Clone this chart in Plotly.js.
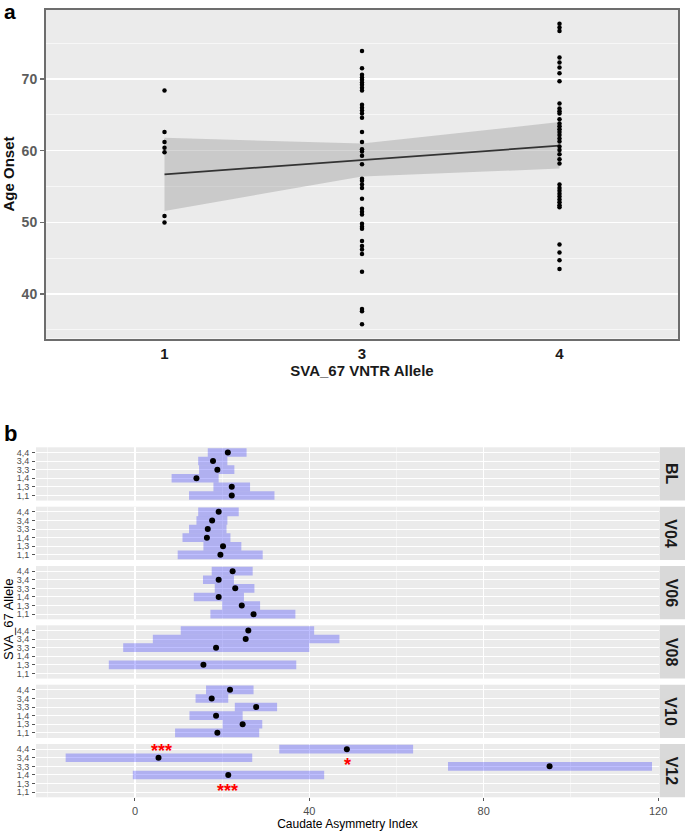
<!DOCTYPE html>
<html>
<head>
<meta charset="utf-8">
<script src="https://cdn.plot.ly/plotly-3.0.1.min.js"></script>
<style>html,body{margin:0;padding:0;background:#fff;}#chart{width:685px;height:832px;}</style>
</head>
<body>
<div id="chart"></div>
<script>
// ---------- Panel a data ----------
var alleleCats = ['1', '3', '4'];
var onsetAllele1 = [68.4, 62.6, 61.2, 60.4, 59.8, 50.9, 50.0];
var onsetAllele3 = [73.9, 71.5, 70.6, 70.2, 69.9, 69.5, 69.2, 68.8, 68.4, 66.4, 66.0, 65.6, 65.2, 64.6,
  62.6, 61.2, 60.2, 59.9, 59.3, 58.1, 56.1, 55.8, 55.3, 54.8, 53.3, 51.9, 51.5, 51.1, 49.8, 49.4, 49.1,
  47.4, 46.7, 46.2, 45.6, 43.1, 37.9, 37.6, 35.8];
var onsetAllele4 = [77.7, 77.2, 76.7, 73.0, 72.3, 71.6, 70.8, 69.7, 66.6, 65.9, 65.5, 65.2, 64.4, 63.8,
  63.4, 63.0, 62.6, 62.2, 61.7, 61.3, 60.6, 60.1, 59.5, 58.8, 58.2, 55.3, 54.8, 54.4, 54.0, 53.6, 53.2,
  52.8, 52.4, 52.1, 46.9, 45.8, 44.7, 43.5];
var fitLine = [56.7, 58.7, 60.7];
var fitLow = [51.6, 56.4, 57.5];
var fitHigh = [61.8, 61.0, 64.0];

// ---------- Panel b data ----------
var visits = ['BL', 'V04', 'V06', 'V08', 'V10', 'V12'];
var genotypes = ['1,1', '1,3', '1,4', '3,3', '3,4', '4,4'];
var meanCAI = [
  [22.2, 22.2, 14.1, 18.9, 17.9, 21.3],
  [19.6, 20.2, 16.5, 16.7, 17.7, 19.2],
  [27.2, 24.5, 19.2, 23.0, 19.2, 22.4],
  [null, 15.7, null, 18.6, 25.4, 26.0],
  [18.9, 24.7, 18.6, 27.8, 17.6, 21.8],
  [null, null, 21.4, 95.1, 5.4, 48.6]
];
var lowCAI = [
  [12.4, 18.0, 8.4, 14.7, 14.5, 16.7],
  [9.8, 15.7, 10.9, 12.4, 14.1, 14.5],
  [17.3, 20.0, 13.5, 18.3, 15.6, 17.6],
  [null, -6.0, null, -2.7, 4.1, 10.5],
  [9.2, 20.1, 12.5, 22.9, 13.9, 16.3],
  [null, null, -0.5, 71.8, -15.9, 33.1]
];
var highCAI = [
  [32.0, 26.4, 19.2, 22.8, 21.2, 25.6],
  [29.3, 24.4, 21.9, 21.0, 21.2, 23.8],
  [36.8, 28.7, 25.0, 27.4, 22.7, 27.0],
  [null, 37.0, null, 40.0, 46.9, 41.1],
  [28.5, 29.2, 24.7, 32.6, 21.4, 27.2],
  [null, null, 43.4, 118.6, 26.9, 63.8]
];
// significance marks in V12 facet: label, x value, genotype index position
var sigLabels = ['***', '***', '*'];
var sigX = [6.0, 21.3, 48.7];
var sigY = [4.75, 0.1, 3.1];

// ---------- layout helpers ----------
var W = 685, H = 832;
function px(x) { return x / W; }
function dom(top, bottom) { return [1 - bottom / H, 1 - top / H]; }
var FONT = 'Liberation Sans, Arial, sans-serif';
var facetTops = [447.3, 506.7, 566.0, 625.3, 684.7, 744.0];
var facetH = 53.3;

var traces = [];
// Panel a
traces.push({
  type: 'scatter', mode: 'lines', xaxis: 'x', yaxis: 'y',
  x: alleleCats.concat(alleleCats.slice().reverse()),
  y: fitLow.concat(fitHigh.slice().reverse()),
  fill: 'toself', fillcolor: 'rgba(153,153,153,0.4)', line: {width: 0}, hoverinfo: 'skip', showlegend: false
});
traces.push({
  type: 'scatter', mode: 'lines', xaxis: 'x', yaxis: 'y',
  x: alleleCats, y: fitLine, line: {color: '#333333', width: 1.8}, showlegend: false
});
var allOnset = [onsetAllele1, onsetAllele3, onsetAllele4];
allOnset.forEach(function (vals, i) {
  traces.push({
    type: 'scatter', mode: 'markers', xaxis: 'x', yaxis: 'y',
    x: vals.map(function () { return alleleCats[i]; }), y: vals,
    marker: {color: '#000000', size: 4.5}, showlegend: false
  });
});

// Panel b
var layout = {
  width: W, height: H,
  margin: {l: 0, r: 0, t: 0, b: 0},
  paper_bgcolor: '#ffffff', plot_bgcolor: '#EBEBEB',
  showlegend: false,
  font: {family: FONT, color: '#000'},
  xaxis: {
    domain: [px(46), px(678)], anchor: 'y', type: 'category', categoryarray: alleleCats, categoryorder: 'array',
    range: [-0.6, 2.6], showgrid: false, zeroline: false,
    showline: true, mirror: true, linecolor: '#6d6d6d', linewidth: 2,
    ticks: '', ticklabelstandoff: 0,
    tickfont: {family: FONT, size: 15, color: '#1a1a1a', weight: 'bold'},
    title: {text: 'SVA_67 VNTR Allele', font: {family: FONT, size: 15, color: '#1a1a1a', weight: 'bold'}, standoff: 2}
  },
  yaxis: {
    domain: dom(9.5, 338.5), anchor: 'x', range: [33.8, 79.7],
    tick0: 0, dtick: 10, showgrid: true, gridcolor: '#ffffff', gridwidth: 1.2, zeroline: false,
    minor: {tick0: 0, dtick: 5, showgrid: true, gridcolor: 'rgba(255,255,255,0.6)', gridwidth: 1, ticks: ''},
    showline: true, mirror: true, linecolor: '#6d6d6d', linewidth: 2,
    ticks: 'outside', ticklen: 4, tickcolor: '#6d6d6d', tickwidth: 1.2,
    tickfont: {family: FONT, size: 14, color: '#5c5c5c', weight: 'bold'},
    title: {text: 'Age Onset', font: {family: FONT, size: 15, color: '#111', weight: 'bold'}, standoff: 5}
  },
  xaxis2: {
    domain: [px(36), px(659)], anchor: 'y7', range: [-22.7, 120.2],
    tick0: 0, dtick: 40, showgrid: true, gridcolor: '#ffffff', gridwidth: 1.1, zeroline: false,
    minor: {tick0: 0, dtick: 20, showgrid: true, gridcolor: 'rgba(255,255,255,0.65)', gridwidth: 0.7, ticks: ''},
    ticks: 'outside', ticklen: 3, tickcolor: '#555', tickwidth: 1,
    tickfont: {family: FONT, size: 11, color: '#4d4d4d'},
    title: {text: 'Caudate Asymmetry Index', font: {family: FONT, size: 12, color: '#000'}, standoff: 4}
  },
  shapes: [],
  annotations: [
    {text: 'a', xref: 'paper', yref: 'paper', x: px(2), y: 1 + 2 / H, xanchor: 'left', yanchor: 'top',
      showarrow: false, font: {family: FONT, size: 21, color: '#000', weight: 'bold'}},
    {text: 'b', xref: 'paper', yref: 'paper', x: px(2), y: 1 - 419 / H, xanchor: 'left', yanchor: 'top',
      showarrow: false, font: {family: FONT, size: 22, color: '#000', weight: 'bold'}},
    {text: 'SVA_67 Allele', xref: 'paper', yref: 'paper', x: px(8), y: 1 - 620 / H, xanchor: 'center', yanchor: 'middle',
      textangle: -90, showarrow: false, font: {family: FONT, size: 13, color: '#000'}}
  ]
};

visits.forEach(function (v, i) {
  var yName = 'y' + (i + 2);
  var axKey = 'yaxis' + (i + 2);
  var top = facetTops[i], bottom = top + facetH;
  layout[axKey] = {
    domain: dom(top, bottom), anchor: 'x2', type: 'category',
    categoryarray: genotypes, categoryorder: 'array', range: [-0.6, 5.6],
    tickmode: 'array', tickvals: genotypes, ticktext: genotypes,
    showgrid: true, gridcolor: '#ffffff', gridwidth: 1, zeroline: false,
    ticks: 'outside', ticklen: 3, tickcolor: '#555', tickwidth: 1, ticklabelstandoff: 1,
    tickfont: {family: FONT, size: 9, color: '#4d4d4d'}
  };
  traces.push({
    type: 'bar', orientation: 'h', xaxis: 'x2', yaxis: yName,
    y: genotypes,
    x: highCAI[i].map(function (h, k) { return h === null ? null : h - lowCAI[i][k]; }),
    base: lowCAI[i], width: 1.0,
    marker: {color: 'rgba(0,0,255,0.25)', line: {width: 0}}, showlegend: false
  });
  traces.push({
    type: 'scatter', mode: 'markers', xaxis: 'x2', yaxis: yName,
    y: genotypes, x: meanCAI[i],
    marker: {color: '#000000', size: 6}, showlegend: false
  });
  // facet strip
  layout.shapes.push({type: 'rect', xref: 'paper', yref: 'paper', x0: px(659.5), x1: 1,
    y0: 1 - bottom / H, y1: 1 - top / H, fillcolor: '#D9D9D9', line: {width: 0}, layer: 'below'});
  layout.annotations.push({text: v, xref: 'paper', yref: 'paper', x: px(671), y: 1 - (top + facetH / 2) / H,
    xanchor: 'center', yanchor: 'middle', textangle: 90, showarrow: false,
    font: {family: FONT, size: 16, color: '#1a1a1a', weight: 'bold'}});
});

sigLabels.forEach(function (t, k) {
  layout.annotations.push({text: t, xref: 'x2', yref: 'y7', x: sigX[k], y: sigY[k],
    xanchor: 'center', yanchor: 'middle', showarrow: false,
    font: {family: FONT, size: 18, color: '#ff0000', weight: 'bold'}});
});

Plotly.newPlot('chart', traces, layout, {displayModeBar: false, staticPlot: true});
</script>
</body>
</html>
